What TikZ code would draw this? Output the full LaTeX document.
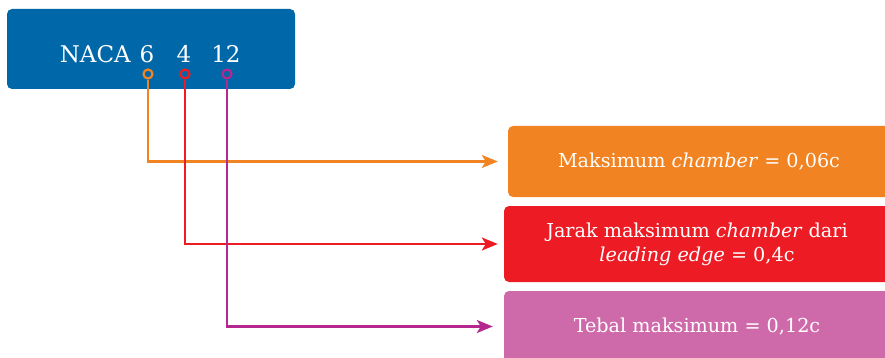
\documentclass[tikz,border=0pt]{standalone}
\usepackage{fontspec}
\setmainfont{DejaVu Serif}
\definecolor{nacablue}{RGB}{0,104,168}
\definecolor{nacaorange}{RGB}{242,131,34}
\definecolor{nacared}{RGB}{237,28,36}
\definecolor{nacapurple}{RGB}{181,41,143}
\definecolor{softpink}{RGB}{207,106,170}
\usetikzlibrary{arrows.meta,positioning,calc}

\begin{document}
\begin{tikzpicture}[x=1pt,y=-1pt,
  infobox/.style={rounded corners=5pt,text=white,font=\fontsize{19.2}{24}\selectfont,align=center,inner sep=0pt},
  digit/.style={text=white,font=\fontsize{23}{27}\selectfont,anchor=base,inner sep=0pt},
  ring/.style={circle,draw,line width=2.2pt,fill=nacablue,minimum size=9pt,inner sep=0pt},
  link/.style={line width=2.3pt,-{Stealth[length=16pt,width=13pt,inset=4pt]}}]
\useasboundingbox (0,0) rectangle (885,358);
\clip (0,0) rectangle (885,358);
% code box
\node[fill=nacablue,rounded corners=5pt,minimum width=288pt,minimum height=80pt] (code) at (151,49) {};
\node[digit,anchor=base east] (naca) at (131,63) {NACA};
\node[digit] (d6) at (147,63) {6};
\node[digit] (d4) at (184,63) {4};
\node[digit] (d12) at (226,63) {12};
\node[ring,draw=nacaorange] (c6) at (148,74) {};
\node[ring,draw=nacared] (c4) at (185,74) {};
\node[ring,draw=nacapurple] (c12) at (227,74) {};
% result boxes
\node[infobox,fill=nacaorange,minimum width=382pt,minimum height=71pt] (camber) at (699,161.5) {Maksimum \textit{chamber} = 0,06c};
\node[infobox,fill=nacared,minimum width=386pt,minimum height=76pt] (position) at (697,244) {Jarak maksimum \textit{chamber} dari\\\textit{leading edge} = 0,4c};
\node[infobox,fill=softpink,minimum width=386pt,minimum height=71pt] (thick) at (697,326.5) {Tebal maksimum = 0,12c};
% connectors
\draw[link,nacaorange,shorten >=10pt] (c6.south) |- (camber.west);
\draw[link,nacared,shorten >=6pt] (c4.south) |- (position.west);
\draw[link,nacapurple,shorten >=11pt] (c12.south) |- (thick.west);
\end{tikzpicture}
\end{document}
